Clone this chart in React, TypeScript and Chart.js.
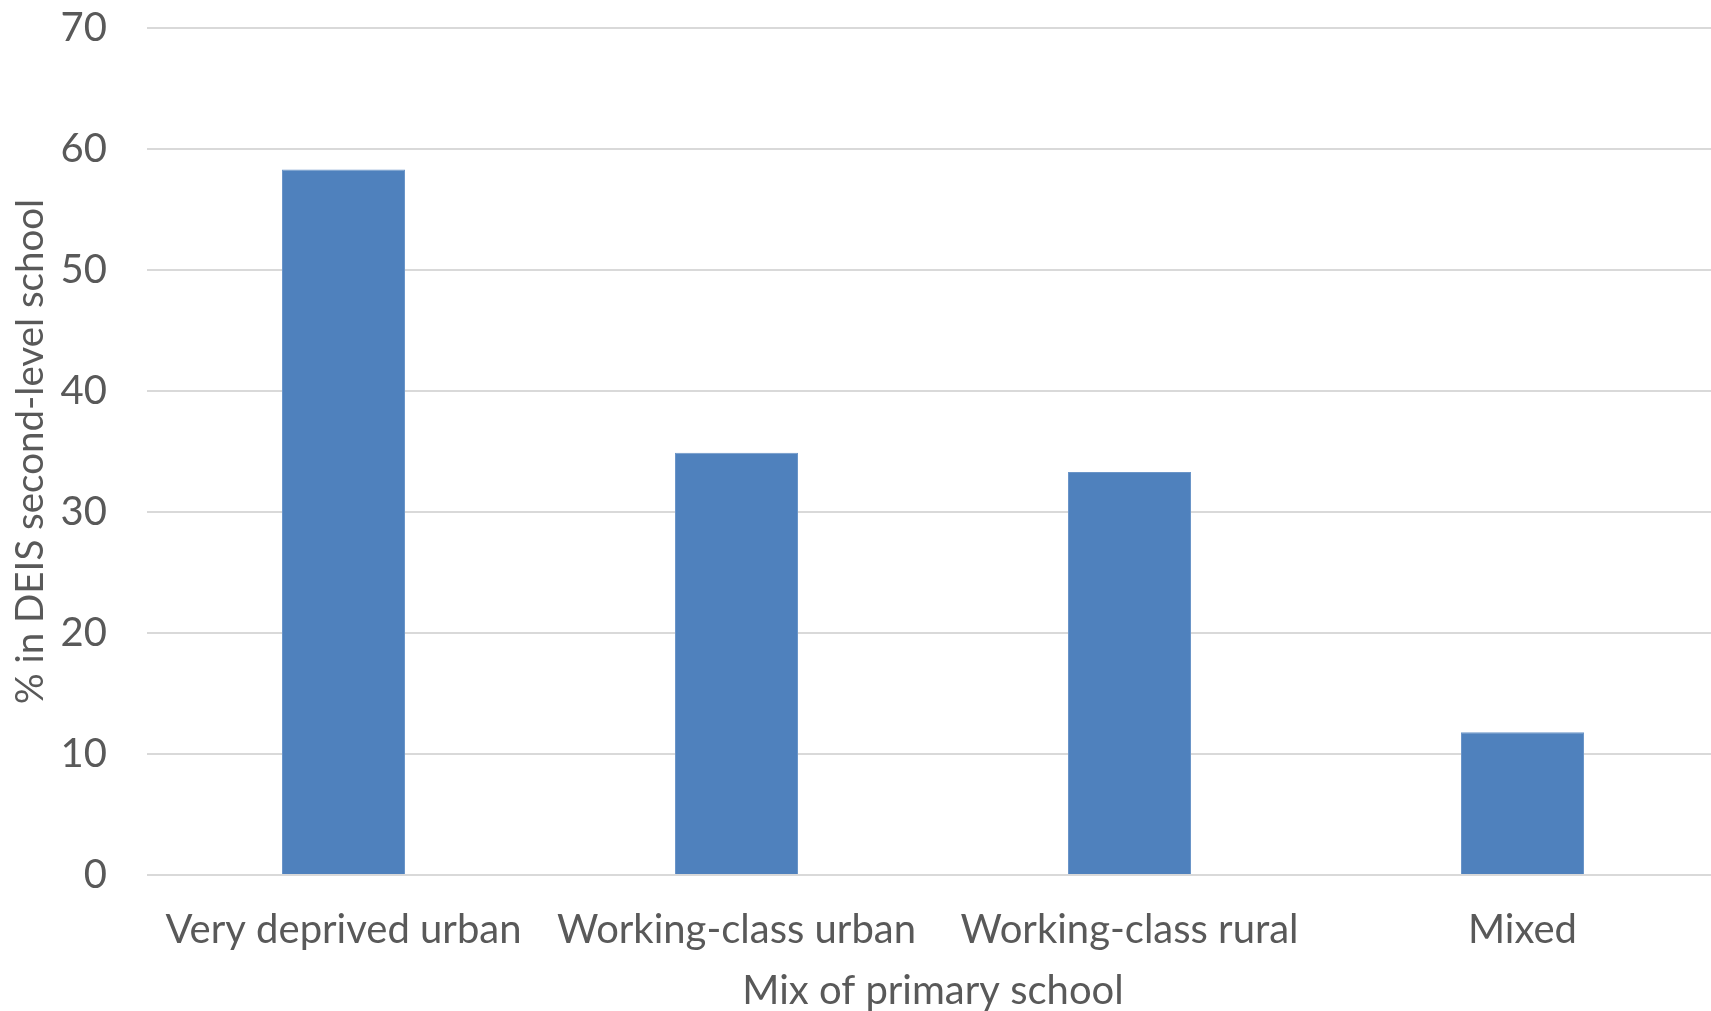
import React, { useEffect, useRef } from "react";
import { Chart, registerables } from "chart.js";

Chart.register(...registerables);

const categories = ["Very deprived urban", "Working-class urban", "Working-class rural", "Mixed"];
const values = [58.3, 34.9, 33.3, 11.8];
const yTitle = "% in DEIS second-level school";
const xTitle = "Mix of primary school";

const FONT = "Lato, 'Open Sans', sans-serif";
const GREY = "#595959";

export default function App() {
  const ref = useRef<HTMLCanvasElement | null>(null);
  useEffect(() => {
    if (!ref.current) return;
    document.body.style.margin = "0";
    document.body.style.overflow = "hidden";
    const chart = new Chart(ref.current, {
      type: "bar",
      data: {
        labels: categories,
        datasets: [
          {
            data: values,
            backgroundColor: "#4f81bd",
            borderColor: "#6b95c8",
            borderWidth: 1,
            barPercentage: 0.313,
            categoryPercentage: 1,
          },
        ],
      },
      options: {
        responsive: false,
        animation: false,
        layout: { padding: { top: 28, left: 0, right: 0, bottom: 0 } },
        plugins: { legend: { display: false }, tooltip: { enabled: false } },
        scales: {
          x: {
            grid: { display: false, drawTicks: false },
            border: { display: false },
            ticks: {
              color: GREY,
              font: { family: FONT, size: 40, lineHeight: 1.2 },
              padding: 31,
              maxRotation: 0,
              autoSkip: false,
            },
            title: {
              display: true,
              text: xTitle,
              color: GREY,
              font: { family: FONT, size: 40, lineHeight: 1.0 },
              padding: { top: 0, bottom: 0 },
            },
            afterFit: (s: any) => {
              s.height = 136;
              s.paddingLeft = 0;
              s.paddingRight = 0;
            },
          },
          y: {
            min: 0,
            max: 70,
            ticks: {
              stepSize: 10,
              color: GREY,
              font: { family: FONT, size: 40, lineHeight: 1.2 },
              padding: 40,
            },
            grid: { color: "#d9d9d9", lineWidth: 2, drawTicks: false },
            border: { display: false },
            title: {
              display: true,
              text: yTitle,
              color: GREY,
              font: { family: FONT, size: 38.5, lineHeight: 1.0 },
              padding: { top: 11, bottom: 0 },
            },
            afterFit: (s: any) => {
              s.width = 147;
              s.paddingTop = 0;
              s.paddingBottom = 0;
            },
          },
        },
      },
    });
    return () => chart.destroy();
  }, []);
  return (
    <div style={{ position: "fixed", left: 0, top: 0, width: 1711, height: 1011, overflow: "hidden", background: "#fff" }}>
      <canvas ref={ref} width={1719} height={1011} style={{ display: "block" }} />
    </div>
  );
}
